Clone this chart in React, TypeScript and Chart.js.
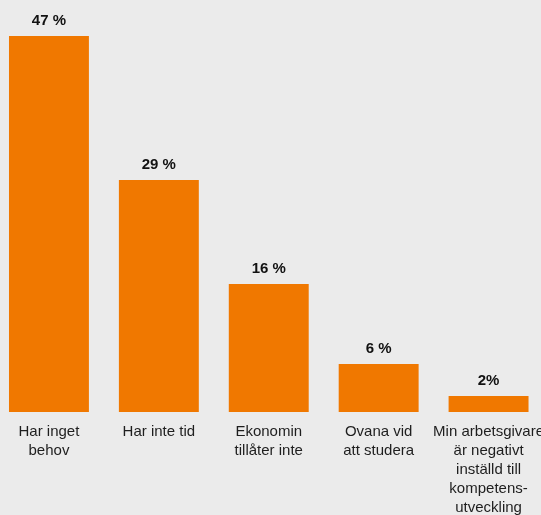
import React, { useEffect, useRef } from "react";
import { Chart, registerables } from "chart.js";

Chart.register(...registerables);

const categories: string[][] = [
  ["Har inget", "behov"],
  ["Har inte tid"],
  ["Ekonomin", "tillåter inte"],
  ["Ovana vid", "att studera"],
  ["Min arbetsgivare", "är negativt", "inställd till", "kompetens-", "utveckling"],
];
const values: number[] = [47, 29, 16, 6, 2];
const valueLabels: string[] = ["47 %", "29 %", "16 %", "6 %", "2%"];

const BG = "#ebebeb";
const BAR = "#f07800";

const valueLabelPlugin = {
  id: "valueLabels",
  afterDatasetsDraw(chart: any) {
    const ctx = chart.ctx;
    const meta = chart.getDatasetMeta(0);
    ctx.save();
    ctx.font = "bold 15px 'Liberation Sans', Arial, sans-serif";
    ctx.fillStyle = "#111";
    ctx.textAlign = "center";
    ctx.textBaseline = "alphabetic";
    meta.data.forEach((el: any, i: number) => {
      ctx.fillText(valueLabels[i], el.x, el.y - 11);
    });
    ctx.restore();
  },
};

export default function App() {
  const ref = useRef<HTMLCanvasElement | null>(null);
  useEffect(() => {
    document.body.style.background = BG;
    const chart = new Chart(ref.current!, {
      type: "bar",
      data: {
        labels: categories,
        datasets: [
          {
            data: values,
            backgroundColor: BAR,
            borderWidth: 0,
            barPercentage: 80 / 110,
            categoryPercentage: 1,
          },
        ],
      },
      options: {
        animation: false,
        responsive: true,
        maintainAspectRatio: false,
        layout: { padding: { top: 12, left: 0, right: 0, bottom: 0 } },
        plugins: {
          legend: { display: false },
          tooltip: { enabled: false },
        },
        scales: {
          x: {
            grid: { display: false, drawTicks: true, tickLength: 10 },
            border: { display: false },
            ticks: {
              color: "#1e1e1e",
              padding: 0,
              maxRotation: 0,
              autoSkip: false,
              font: { family: "'Liberation Sans', Arial, sans-serif", size: 15, lineHeight: 19 / 15 },
            },
          },
          y: {
            display: false,
            min: 0,
            max: 50,
          },
        },
      },
      plugins: [valueLabelPlugin],
    });
    return () => chart.destroy();
  }, []);
  return (
    <div
      style={{
        position: "fixed",
        left: -6,
        top: 0,
        width: 550,
        height: 517,
        background: BG,
      }}
    >
      <canvas ref={ref} />
    </div>
  );
}
